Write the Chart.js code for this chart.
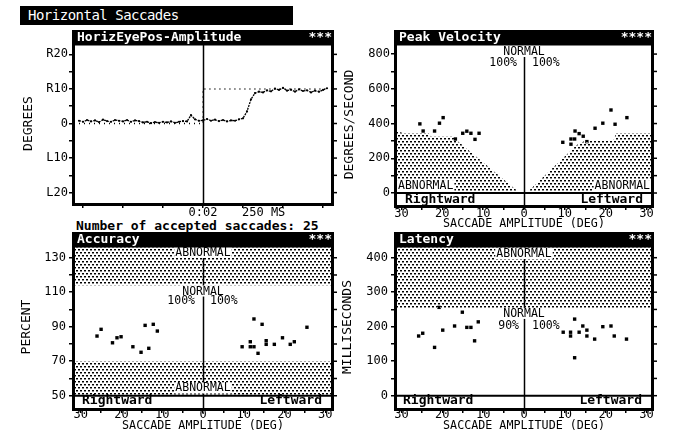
<!DOCTYPE html>
<html>
<head>
<meta charset="utf-8">
<script src="https://cdn.jsdelivr.net/npm/chart.js@4.4.0/dist/chart.umd.min.js"></script>
<style>
  body { margin: 0; width: 677px; height: 444px; overflow: hidden; position: relative; background: #fff;
         font-family: 'DejaVu Sans Mono', monospace; color: #000; }
  canvas { position: absolute; left: 0; top: 0; }
  #title { position: absolute; left: 20px; top: 6px; width: 273px; height: 19px; background: #000; color: #fff;
           font-size: 14px; letter-spacing: -0.5px; line-height: 19px; padding-left: 8px; box-sizing: border-box; }
  #count { position: absolute; left: 76px; top: 218px; font-size: 13px; font-weight: bold; line-height: 15px; white-space: pre; }
</style>
</head>
<body>
<div id="title">Horizontal Saccades</div>
<div id="count">Number of accepted saccades: 25</div>
<canvas id="pos" width="677" height="444"></canvas>
<canvas id="vel" width="677" height="444"></canvas>
<canvas id="acc" width="677" height="444"></canvas>
<canvas id="lat" width="677" height="444"></canvas>
<script>
// ---- eye position vs time (ms), degrees, + = right
const eyeTimes = [-775, -750, -725, -700, -675, -650, -625, -600, -575, -550, -525, -500, -475, -450, -425, -400,
  -375, -350, -325, -300, -275, -250, -225, -200, -175, -150, -125, -100, -75, -50, -25,
  0, 25, 50, 75, 100, 125, 150, 175, 200, 225, 250, 275, 300, 325, 350,
  375, 400, 425, 450, 475, 500, 525, 550, 575, 600, 625, 650, 675, 700, 725, 750, 775];
const eyePos = [0.8, 0.5, 1.0, 0.6, 0.9, 0.4, 1.1, 0.7, 0.5, 1.0, 0.8, 0.6, 1.0, 0.5, 0.9, 0.7,
  0.3, 0.5, 0.1, 0.4, 0.2, 0.5, 0.3, 0.6, 0.2, 0.5, 0.7, 0.6, 2.4, 1.2, 0.8,
  0.9, 1.3, 0.8, 1.1, 0.7, 1.0, 0.6, 0.9, 0.8, 1.2, 1.5, 3.5, 7.0, 8.8, 9.2,
  9.0, 9.6, 9.3, 10.1, 9.7, 10.3, 9.5, 9.8, 9.2, 9.9, 9.4, 9.6, 9.0, 9.5, 9.2, 9.7, 10.2];
const targetTimes = [-775, 0, 0, 775];
const targetPos = [0, 0, 10, 10];
const posTicks = [-20, -15, -10, -5, 0, 5, 10, 15, 20];
const posLabels = ['L20', '', 'L10', '', '0', '', 'R10', '', 'R20'];
const timeTicks = [-750, -500, -250, 0, 250, 500, 750];
const timeLabels = ['', '', '', '0:02', '', '', ''];

// ---- saccade amplitude axis (left half = rightward saccades)
const ampTicks = [-30, -25, -20, -15, -10, -5, 0, 5, 10, 15, 20, 25, 30];
const ampLabels = ['30', '', '20', '', '10', '', '0', '', '10', '', '20', '', '30'];

// ---- peak velocity (deg/s)
const velTicks = [0, 100, 200, 300, 400, 500, 600, 700, 800];
const velLabels = ['0', '', '200', '', '400', '', '600', '', '800'];
const velRightAmp = [25.5, 24.7, 21.9, 20.7, 19.8, 16.8, 15.0, 14.0, 13.0, 12.0, 11.0];
const velRight = [398, 357, 357, 402, 434, 311, 344, 356, 344, 309, 344];
const velLeftAmp = [9.5, 11.5, 11.5, 12.4, 12.5, 13.5, 14.5, 15.4, 17.4, 19.3, 21.3, 22.3, 25.2];
const velLeft = [292, 281, 311, 311, 357, 342, 327, 296, 373, 402, 478, 396, 434];
const velLimitRightAmp = [1.0, 17.6, 22.9, 23.3, 29.5, 31.1];
const velLimitRight = [0, 325, 325, 344, 344, 355];
const velLimitLeftAmp = [0.6, 12.9, 15.3, 21.9, 22.6, 31.1];
const velLimitLeft = [0, 277, 305, 305, 344, 344];

// ---- accuracy (%)
const accTicks = [50, 60, 70, 80, 90, 100, 110, 120, 130];
const accLabels = ['50', '', '70', '', '90', '', '110', '', '130'];
const accRightAmp = [26.0, 25.0, 22.2, 21.1, 20.1, 17.2, 15.2, 14.2, 13.3, 12.2, 11.2];
const accRight = [84.6, 88.5, 80.7, 83.6, 84.2, 78.4, 75.2, 90.8, 77.5, 91.4, 87.5];
const accLeftAmp = [9.6, 11.6, 11.6, 12.5, 12.5, 13.5, 14.5, 15.5, 15.5, 17.5, 19.5, 21.4, 22.4, 25.5];
const accLeft = [78.4, 81.3, 78.4, 78.4, 94.5, 74.6, 91.4, 81.9, 79.8, 79.8, 83.6, 79.8, 81.3, 89.7];
const accNormal = [70, 114];

// ---- latency (ms)
const latTicks = [0, 50, 100, 150, 200, 250, 300, 350, 400];
const latLabels = ['0', '', '100', '', '200', '', '300', '', '400'];
const latRightAmp = [25.8, 24.8, 21.9, 20.8, 19.9, 17.0, 15.1, 14.0, 13.0, 12.1, 11.2];
const latRight = [173, 181, 140, 256, 190, 202, 242, 198, 198, 159, 214];
const latLeftAmp = [9.6, 11.4, 11.4, 12.4, 12.4, 13.5, 14.4, 15.4, 15.4, 17.3, 19.3, 21.3, 22.1, 25.1];
const latLeft = [184, 184, 173, 222, 110, 184, 202, 190, 173, 164, 200, 202, 173, 164];
const latNormalMax = 252;

const MONO = "'DejaVu Sans Mono', monospace";
Chart.defaults.font.family = MONO;
Chart.defaults.color = '#000';

// dotted shading like the printout
function stipple() {
    const c = document.createElement('canvas');
    c.width = 4; c.height = 6;
    const g = c.getContext('2d');
    g.fillStyle = '#000';
    g.fillRect(0, 0, 2, 1);
    g.fillRect(2, 3, 2, 1);
    g.fillStyle = '#888';
    g.fillRect(0, 1, 2, 1);
    g.fillRect(2, 4, 2, 1);
    return g.createPattern(c, 'repeat');
}
const shade = stipple();

function pts(xs, ys, sign) {
    return xs.map((v, i) => ({ x: sign * v, y: ys[i] }));
}
function dots(xs, ys, sign) {
    return { data: pts(xs, ys, sign), showLine: false, pointStyle: 'rect', pointRadius: 2.4,
             backgroundColor: '#000', borderWidth: 0 };
}
function band(data, fill) {
    return { data, fill, backgroundColor: shade, borderWidth: 0, pointRadius: 0 };
}

function decor(o) {
    return {
        id: 'decor',
        afterDraw(chart) {
            const { ctx, chartArea: a, scales: { x, y } } = chart;
            ctx.save();
            ctx.strokeStyle = '#000';
            // baseline
            if (o.base !== undefined) {
                const by = y.getPixelForValue(o.base);
                ctx.lineWidth = 2;
                ctx.beginPath(); ctx.moveTo(a.left, by); ctx.lineTo(a.right, by); ctx.stroke();
            }
            // center line
            const cx = Math.round(x.getPixelForValue(0)) + 0.5;
            ctx.lineWidth = 1.5;
            ctx.beginPath(); ctx.moveTo(cx, a.top + o.centerTop); ctx.lineTo(cx, a.bottom); ctx.stroke();
            // texts
            (o.texts || []).forEach(t => {
                ctx.font = (t.bold ? 'bold ' : '') + (t.size || 11.5) + 'px ' + MONO;
                const w = ctx.measureText(t.text).width;
                const px = x.getPixelForValue(t.x) + (t.dx || 0);
                const left = t.align === 'right' ? px - w : t.align === 'left' ? px : px - w / 2;
                const py = y.getPixelForValue(t.y);
                if (t.bg) { ctx.fillStyle = '#fff'; ctx.fillRect(left - 1, py - 6, w + 2, 11); }
                ctx.fillStyle = '#000';
                ctx.textAlign = 'left';
                ctx.textBaseline = 'middle';
                ctx.fillText(t.text, left, py);
            });
            // frame
            ctx.lineWidth = 3;
            ctx.strokeRect(a.left - 1.5, a.top, a.width + 3, a.height + 1.5);
            // right side ticks
            ctx.lineWidth = 1.5;
            y.ticks.forEach(tk => {
                const ty = y.getPixelForValue(tk.value);
                ctx.beginPath(); ctx.moveTo(a.right + 1, ty); ctx.lineTo(a.right + 6, ty); ctx.stroke();
            });
            // title bar
            ctx.fillStyle = '#000';
            ctx.fillRect(a.left - 3, a.top - 14, a.width + 6, 14);
            ctx.fillStyle = '#fff';
            ctx.font = 'bold 13px ' + MONO;
            ctx.textBaseline = 'middle';
            ctx.textAlign = 'left';
            ctx.fillText(o.title, a.left + 2, a.top - 6.5);
            ctx.textAlign = 'right';
            ctx.fillText(o.stars, a.right + 1, a.top - 6.5);
            ctx.restore();
        }
    };
}

function makePanel(id, p) {
    const fixTicks = arr => s => { s.ticks = arr.map(v => ({ value: v })); };
    new Chart(document.getElementById(id), {
        type: 'line',
        data: { datasets: p.datasets },
        options: {
            responsive: false,
            animation: false,
            events: [],
            layout: {
                padding: {
                    left: p.area.left - p.yWidth,
                    top: p.area.top,
                    right: 677 - p.area.right,
                    bottom: 444 - p.area.bottom - p.xHeight
                }
            },
            plugins: { legend: { display: false }, tooltip: { enabled: false } },
            scales: {
                x: {
                    type: 'linear', min: p.xMin, max: p.xMax,
                    afterBuildTicks: fixTicks(p.xTicks),
                    afterFit: s => { s.height = p.xHeight; },
                    ticks: { callback: (v, i) => p.xLabels[i], autoSkip: false, maxRotation: 0,
                             padding: p.xPad, font: { size: 12 } },
                    grid: { drawOnChartArea: false, tickLength: 5, color: '#000', lineWidth: 1.5 },
                    border: { display: false },
                    title: { display: !!p.xTitle, text: p.xTitle, padding: 0, font: { size: 11.7 } }
                },
                y: {
                    min: p.yMin, max: p.yMax,
                    afterBuildTicks: fixTicks(p.yTicks),
                    afterFit: s => { s.width = p.yWidth; },
                    ticks: { callback: (v, i) => p.yLabels[i], autoSkip: false, padding: p.yPad,
                             font: { size: 12 } },
                    grid: { drawOnChartArea: false, tickLength: 6, color: '#000', lineWidth: 1.5 },
                    border: { display: false },
                    title: { display: true, text: p.yTitle, padding: 0, font: { size: 13 } }
                }
            }
        },
        plugins: [decor(p.decor)]
    });
}

// Horizontal eye position
makePanel('pos', {
    area: { left: 75, top: 44, right: 331, bottom: 203 }, yWidth: 54, xHeight: 14,
    xMin: -800, xMax: 800, xTicks: timeTicks, xLabels: timeLabels, xPad: -2,
    yMin: -23, yMax: 23, yTicks: posTicks, yLabels: posLabels, yPad: 1, yTitle: 'DEGREES',
    datasets: [
        { data: pts(targetTimes, targetPos, 1), borderColor: '#000', borderWidth: 1.5,
          borderDash: [1, 4], pointRadius: 0 },
        { data: pts(eyeTimes, eyePos, 1), borderColor: '#000', borderWidth: 1.3, pointRadius: 1.1,
          backgroundColor: '#000', pointBorderWidth: 0, borderDash: [2, 1] }
    ],
    decor: { title: 'HorizEyePos-Amplitude', stars: '***', centerTop: 0,
             texts: [{ text: '250 MS', x: 250, y: -25.9, align: 'left', dx: -1, size: 12 }] }
});

// Peak velocity
makePanel('vel', {
    area: { left: 397, top: 44, right: 651, bottom: 205 }, yWidth: 55, xHeight: 26,
    xMin: -31.1, xMax: 31.1, xTicks: ampTicks, xLabels: ampLabels, xPad: -3,
    yMin: -69, yMax: 858, yTicks: velTicks, yLabels: velLabels, yPad: 1, yTitle: 'DEGREES/SECOND',
    xTitle: 'SACCADE AMPLITUDE (DEG)',
    datasets: [
        band(pts(velLimitRightAmp, velLimitRight, -1), { value: 0 }),
        band(pts(velLimitLeftAmp, velLimitLeft, 1), { value: 0 }),
        dots(velRightAmp, velRight, -1),
        dots(velLeftAmp, velLeft, 1)
    ],
    decor: { title: 'Peak Velocity', stars: '****', centerTop: 13, base: 0,
             texts: [
                 { text: 'NORMAL', x: 0, y: 814, align: 'center' },
                 { text: '100%', x: 0, y: 748, align: 'right', dx: -7 },
                 { text: '100%', x: 0, y: 748, align: 'left', dx: 8 },
                 { text: 'ABNORMAL', x: -31.1, y: 40, align: 'left', dx: 1, bg: true },
                 { text: 'ABNORMAL', x: 31.1, y: 40, align: 'right', dx: -1, bg: true },
                 { text: 'Rightward', x: -31.1, y: -37, align: 'left', dx: 8, bold: true, size: 13 },
                 { text: 'Leftward', x: 31.1, y: -37, align: 'right', dx: -8, bold: true, size: 13 }
             ] }
});

// Accuracy
makePanel('acc', {
    area: { left: 75, top: 246, right: 331, bottom: 408 }, yWidth: 56, xHeight: 25,
    xMin: -31.4, xMax: 31.4, xTicks: ampTicks, xLabels: ampLabels, xPad: -5,
    yMin: 42.9, yMax: 136.8, yTicks: accTicks, yLabels: accLabels, yPad: 3, yTitle: 'PERCENT',
    xTitle: 'SACCADE AMPLITUDE (DEG)',
    datasets: [
        band([{ x: -31.4, y: accNormal[1] }, { x: 31.4, y: accNormal[1] }], 'end'),
        band([{ x: -31.4, y: accNormal[0] }, { x: 31.4, y: accNormal[0] }], { value: 50 }),
        dots(accRightAmp, accRight, -1),
        dots(accLeftAmp, accLeft, 1)
    ],
    decor: { title: 'Accuracy', stars: '***', centerTop: 12, base: 50,
             texts: [
                 { text: 'ABNORMAL', x: 0, y: 133, align: 'center', bg: true },
                 { text: 'NORMAL', x: 0, y: 110.4, align: 'center', bg: true },
                 { text: '100%', x: 0, y: 105.2, align: 'right', dx: -8 },
                 { text: '100%', x: 0, y: 105.2, align: 'left', dx: 7 },
                 { text: 'ABNORMAL', x: 0, y: 54.2, align: 'center', bg: true },
                 { text: 'Rightward', x: -31.4, y: 46.9, align: 'left', dx: 7, bold: true, size: 13 },
                 { text: 'Leftward', x: 31.4, y: 46.9, align: 'right', dx: -9, bold: true, size: 13 }
             ] }
});

// Latency
makePanel('lat', {
    area: { left: 397, top: 246, right: 651, bottom: 408 }, yWidth: 57, xHeight: 25,
    xMin: -31.1, xMax: 31.1, xTicks: ampTicks, xLabels: ampLabels, xPad: -5,
    yMin: -35.7, yMax: 433.9, yTicks: latTicks, yLabels: latLabels, yPad: 3, yTitle: 'MILLISECONDS',
    xTitle: 'SACCADE AMPLITUDE (DEG)',
    datasets: [
        band([{ x: -31.1, y: latNormalMax }, { x: 31.1, y: latNormalMax }], 'end'),
        dots(latRightAmp, latRight, -1),
        dots(latLeftAmp, latLeft, 1)
    ],
    decor: { title: 'Latency', stars: '***', centerTop: 12, base: 0,
             texts: [
                 { text: 'ABNORMAL', x: 0, y: 410.7, align: 'center', bg: true },
                 { text: 'NORMAL', x: 0, y: 237, align: 'center', bg: true },
                 { text: '90%', x: 0, y: 202, align: 'right', dx: -5 },
                 { text: '100%', x: 0, y: 202, align: 'left', dx: 8 },
                 { text: 'Rightward', x: -31.1, y: -15, align: 'left', dx: 6, bold: true, size: 13 },
                 { text: 'Leftward', x: 31.1, y: -15, align: 'right', dx: -9, bold: true, size: 13 }
             ] }
});
</script>
</body>
</html>
